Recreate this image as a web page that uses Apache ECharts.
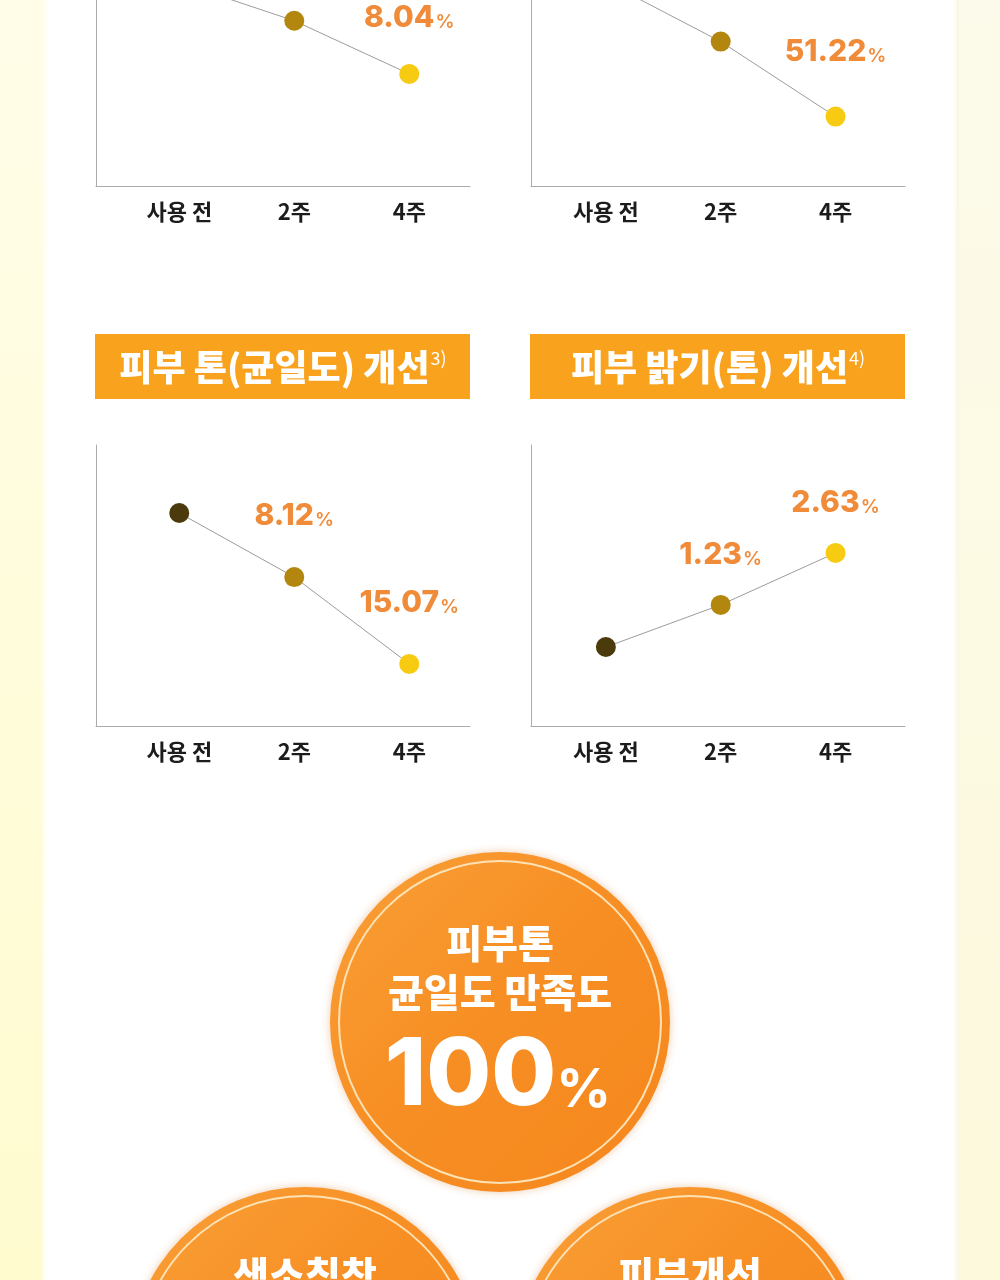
<!DOCTYPE html>
<html>
<head>
<meta charset="utf-8">
<style>
  html, body { margin: 0; padding: 0; background: #fff; }
  #cn { width: 1000px; height: 1280px; }
</style>
<script src="https://cdn.jsdelivr.net/npm/echarts@6/dist/echarts.min.js"></script>
</head>
<body>
<div id="cn"></div>
<script>
'use strict';

// categories
const periods = ['사용 전', '2주', '4주'];

// scores (relative height, 0 = x axis, 100 = axis top)
const topLeftScores = [72.5, 58.8, 39.9];
const topLeftLabels = [null, null, '8.04'];
const topRightScores = [72.7, 51.4, 24.7];
const topRightLabels = [null, null, '51.22'];
const toneScores = [75.8, 53.0, 22.1];
const toneLabels = [null, '8.12', '15.07'];
const brightScores = [28.1, 43.1, 61.6];
const brightLabels = [null, '1.23', '2.63'];

const titles = ['피부 톤(균일도) 개선', '피부 밝기(톤) 개선'];
const titleNotes = ['3)', '4)'];

const badgeTop = ['피부톤', '균일도 만족도'];
const badgeValue = '100';
const badgeLeft = '색소침착';
const badgeRight = '피부개선';

const markerColors = ['#4b3b0c', '#b3870d', '#f7cb12'];
const FONT = '"Noto Sans CJK KR", "Noto Sans", sans-serif';
const NUM_FONT = 'Inter, "Noto Sans CJK KR", sans-serif';
const ORANGE = '#f08b3a';

// top two charts are cut by the page edge: only the lower 186px of the plot show
const panels = [
    { scores: topLeftScores, labels: topLeftLabels, left: 96, top: 0, height: 186, ymax: 66.2, min: -0.724, max: 2.528, dist: 31 },
    { scores: topRightScores, labels: topRightLabels, left: 531, top: 0, height: 186, ymax: 66.2, min: -0.652, max: 2.605, dist: 40 },
    { scores: toneScores, labels: toneLabels, left: 96, top: 445, height: 281, ymax: 100, min: -0.724, max: 2.528, dist: 36 },
    { scores: brightScores, labels: brightLabels, left: 531, top: 445, height: 281, ymax: 100, min: -0.652, max: 2.605, dist: 25 }
];

const grid = [], xAxis = [], yAxis = [], series = [];

panels.forEach((p, i) => {
    grid.push({ left: p.left, top: p.top, width: 374, height: p.height });
    xAxis.push({
        type: 'value',
        gridIndex: i,
        min: p.min,
        max: p.max,
        axisLine: { show: true, onZero: false, lineStyle: { color: '#ababab', width: 1 } },
        axisTick: { show: false },
        splitLine: { show: false },
        axisLabel: {
            customValues: [0, 1, 2],
            formatter: v => periods[Math.round(v)] || '',
            margin: 15,
            color: '#1c1c1c',
            fontSize: 22,
            fontWeight: 'bold',
            fontFamily: FONT
        }
    });
    yAxis.push({
        type: 'value',
        gridIndex: i,
        min: 0,
        max: p.ymax,
        axisLine: { show: true, onZero: false, lineStyle: { color: '#ababab', width: 1 } },
        axisTick: { show: false },
        axisLabel: { show: false },
        splitLine: { show: false }
    });
    series.push({
        type: 'line',
        xAxisIndex: i,
        yAxisIndex: i,
        clip: true,
        data: p.scores.map((v, k) => ({
            value: [k, v],
            itemStyle: { color: markerColors[k] }
        })),
        symbol: 'circle',
        symbolSize: 20,
        lineStyle: { color: '#9c9c9c', width: 1 },
        label: {
            show: true,
            position: 'top',
            distance: p.dist,
            formatter: prm => p.labels[prm.dataIndex] ? `{n|${p.labels[prm.dataIndex]}}{p|%}` : '',
            rich: {
                n: { fontSize: 30, fontWeight: 800, color: ORANGE, fontFamily: NUM_FONT, lineHeight: 30 },
                p: { fontSize: 19, fontWeight: 600, color: ORANGE, fontFamily: NUM_FONT, padding: [9, 0, 0, 1] }
            }
        },
        emphasis: { disabled: true }
    });
});

const graphic = [];

// side strips
graphic.push({
    type: 'rect', shape: { x: 0, y: 0, width: 42, height: 1280 },
    style: { fill: new echarts.graphic.LinearGradient(0, 0, 0, 1, [
        { offset: 0, color: '#fffde8' }, { offset: 1, color: '#fffbcf' }]) }
});
graphic.push({
    type: 'rect', shape: { x: 42, y: 0, width: 8, height: 1280 },
    style: { fill: new echarts.graphic.LinearGradient(0, 0, 1, 0, [
        { offset: 0, color: 'rgba(255,252,220,0.8)' }, { offset: 1, color: 'rgba(255,255,255,0)' }]) }
});
graphic.push({
    type: 'rect', shape: { x: 959, y: 0, width: 41, height: 1280 },
    style: { fill: new echarts.graphic.LinearGradient(0, 0, 0, 1, [
        { offset: 0, color: '#fcfaea' }, { offset: 1, color: '#fdf9dc' }]) }
});
graphic.push({
    type: 'rect', shape: { x: 952, y: 0, width: 7, height: 1280 },
    style: { fill: new echarts.graphic.LinearGradient(0, 0, 1, 0, [
        { offset: 0, color: 'rgba(250,248,228,0)' }, { offset: 1, color: 'rgba(246,244,222,0.9)' }]) }
});

// title boxes
titles.forEach((t, i) => {
    const x = i === 0 ? 95 : 530;
    graphic.push({
        type: 'rect', shape: { x: x, y: 334, width: 375, height: 65 },
        style: { fill: '#f8a21d' }
    });
    graphic.push({
        type: 'text', x: x + 188, y: 367,
        style: {
            text: `{t|${t}}{s|${titleNotes[i]}}`,
            align: 'center', verticalAlign: 'middle',
            rich: {
                t: { fontSize: 36, fontWeight: 900, fill: '#fff', fontFamily: FONT },
                s: { fontSize: 18, fill: '#fff', fontFamily: FONT, padding: [0, 0, 17, 1] }
            }
        }
    });
});

// badges
const badge = (cx, cy, r) => {
    graphic.push({
        type: 'circle', shape: { cx: cx, cy: cy, r: r },
        style: {
            fill: new echarts.graphic.LinearGradient(0, 0, 1, 1, [
                { offset: 0, color: '#f9a038' }, { offset: 0.45, color: '#f78f24' }, { offset: 1, color: '#f5871d' }]),
            shadowBlur: 8, shadowColor: 'rgba(210,110,20,0.35)'
        }
    });
    graphic.push({
        type: 'circle', shape: { cx: cx, cy: cy, r: r - 9 },
        style: { fill: 'none', stroke: '#fde2b6', lineWidth: 2 }
    });
};
badge(500, 1022, 170);
badge(305, 1362, 175);
badge(690, 1362, 175);

const whiteText = (text, x, y, size) => ({
    type: 'text', x: x, y: y,
    style: {
        text: text, fill: '#fff', align: 'center', verticalAlign: 'middle',
        fontSize: size, fontWeight: 900, fontFamily: FONT
    }
});
graphic.push(whiteText(badgeTop[0], 500, 943, 39));
graphic.push(whiteText(badgeTop[1], 500, 992, 39));
graphic.push({
    type: 'text', x: 498, y: 1077,
    style: {
        text: `{v|${badgeValue}}{p|%}`, align: 'center', verticalAlign: 'middle',
        rich: {
            v: { fontSize: 94, fontWeight: 800, fill: '#fff', fontFamily: NUM_FONT, lineHeight: 94 },
            p: { fontSize: 54, fontWeight: 700, fill: '#fff', fontFamily: NUM_FONT, padding: [28, 0, 0, 0] }
        }
    }
});
graphic.push(whiteText(badgeLeft, 305, 1275, 39));
graphic.push(whiteText(badgeRight, 690, 1275, 39));

const chart = echarts.init(document.getElementById('cn'));
chart.setOption({
    animation: false,
    backgroundColor: '#ffffff',
    grid: grid,
    xAxis: xAxis,
    yAxis: yAxis,
    series: series,
    graphic: graphic
});
</script>
</body>
</html>
